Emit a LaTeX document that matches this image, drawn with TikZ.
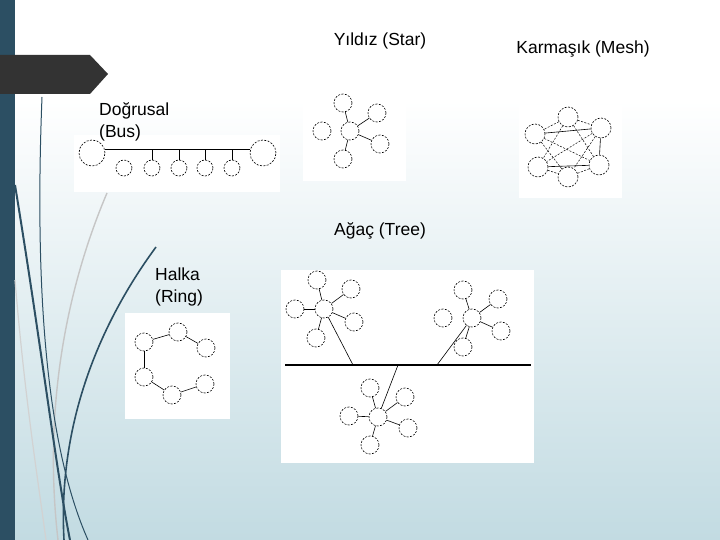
\documentclass[tikz,border=0pt]{standalone}
\usepackage{fontspec}
\setmainfont{Liberation Sans}
\usetikzlibrary{positioning}
\definecolor{barblue}{RGB}{44,79,99}
\definecolor{bannergray}{RGB}{51,51,51}
\definecolor{bgbottom}{RGB}{194,219,226}
\begin{document}
\begin{tikzpicture}[x=1pt, y=-1pt,
    host/.style={circle, draw, dash pattern=on 2pt off 1.4pt, line width=0.6pt, minimum size=18pt, inner sep=0pt},
    bighost/.style={host, minimum size=26pt},
    smallhost/.style={host, minimum size=16pt},
    meshhost/.style={host, minimum size=20pt},
    link/.style={line width=0.6pt},
    meshlink/.style={line width=0.5pt, dash pattern=on 2pt off 1.5pt},
    toptext/.style={font=\fontsize{17.5}{22}\selectfont, inner sep=0pt},
    swoosh/.style={barblue, line width=1.6pt}]
    \useasboundingbox (0,0) rectangle (720,540);

    % Background
    \fill[white] (0,0) rectangle (720,100);
    \shade[top color=white, bottom color=bgbottom] (0,100) rectangle (720,540);
    \fill[barblue] (0,0) rectangle (15,540);

    % Swooshes on the left
    \draw[gray!45, line width=1.4pt] (107,193) .. controls (70,280) and (42,400) .. (58,540);
    \draw[gray!35, line width=1.2pt] (15,280) .. controls (25,400) and (38,480) .. (46,540);
    \draw[swoosh, line width=1pt] (42,97) .. controls (34,300) and (48,450) .. (88,540);
    \draw[swoosh, line width=2pt] (15,185) .. controls (42,350) and (56,470) .. (70,540);
    \draw[swoosh] (156,247) .. controls (95,330) and (58,430) .. (64,540);

    % Banner
    \fill[bannergray] (0,55) -- (90,55) -- (108,74) -- (90,94) -- (0,94) -- cycle;

    % Panels
    \fill[white] (74,135) rectangle (280,192);
    \fill[white] (303,90) rectangle (406,181);
    \fill[white] (519,105) rectangle (622,198);
    \fill[white] (125,313) rectangle (230,419);
    \fill[white] (281,270) rectangle (534,463);

    % Titles
    \node[toptext, anchor=base] (startitle) at (380,46) {Yıldız (Star)};
    \node[toptext, anchor=base] (meshtitle) at (583,54) {Karmaşık (Mesh)};
    \node[toptext, anchor=base] (treetitle) at (380,236) {Ağaç (Tree)};
    \node[toptext, anchor=north west, align=left] (bustitle) at (99,102) {Doğrusal\\(Bus)};
    \node[toptext, anchor=north west, align=left] (ringtitle) at (155,268) {Halka\\(Ring)};

    % Bus
    \node[bighost] (bl) at (92,153) {};
    \node[bighost] (br) at (263,153) {};
    \node[smallhost] (b1) at (124,168) {};
    \node[smallhost] (b2) at (152,168) {};
    \node[smallhost] (b3) at (179,168) {};
    \node[smallhost] (b4) at (205,168) {};
    \node[smallhost] (b5) at (232,168) {};
    \draw[link] (bl.15) -- (br.165);
    \foreach \n in {b2,b3,b4,b5}
        \draw[link] (\n.north) -- (\n.north |- bl.15);

    % Star
    \node[host] (sc) at (350,131) {};
    \node[host] (st) at (343,103) {};
    \node[host] (sr) at (377,113) {};
    \node[host] (sl) at (322,131) {};
    \node[host] (sd) at (380,144) {};
    \node[host] (sb) at (343,159) {};
    \foreach \n in {st,sr,sd,sb}
        \draw[link] (sc) -- (\n);

    % Mesh
    \node[meshhost] (mt) at (568,117) {};
    \node[meshhost] (ml) at (535,134) {};
    \node[meshhost] (mr) at (601,128) {};
    \node[meshhost] (mll) at (538,167) {};
    \node[meshhost] (mb) at (568,177) {};
    \node[meshhost] (mlr) at (599,165) {};
    \draw[link] (ml) -- (mr);
    \draw[link] (mll) -- (mlr);
    \draw[link] (mr) -- (mlr);
    \foreach \a/\b in {mt/ml, mt/mr, mt/mll, mt/mlr, ml/mlr, ml/mb, mr/mll, mr/mb, mll/mb, mb/mlr}
        \draw[meshlink] (\a) -- (\b);

    % Ring
    \node[host] (ra) at (144,342) {};
    \node[host] (rb) at (178,332) {};
    \node[host] (rc) at (206,348) {};
    \node[host] (rd) at (144,377) {};
    \node[host] (re) at (172,395) {};
    \node[host] (rf) at (205,384) {};
    \foreach \a/\b in {ra/rb, rb/rc, ra/rd, rd/re, re/rf}
        \draw[link] (\a) -- (\b);

    % Tree
    \coordinate (tl) at (285,365);
    \coordinate (tr) at (531,365);
    \coordinate (t1) at (353,365);
    \coordinate (t2) at (437,365);
    \coordinate (t3) at (398,365);
    \draw[line width=2pt] (tl) -- (tr);

    \node[host] (c1) at (324,309) {};
    \node[host] (c1t) at (317,280) {};
    \node[host] (c1r) at (351,289) {};
    \node[host] (c1l) at (295,309) {};
    \node[host] (c1s) at (354,322) {};
    \node[host] (c1b) at (316,338) {};
    \foreach \n in {c1t,c1r,c1l,c1s,c1b}
        \draw[link] (c1) -- (\n);
    \draw[link] (c1) -- (t1);

    \node[host] (c2) at (472,318) {};
    \node[host] (c2t) at (463,290) {};
    \node[host] (c2r) at (498,299) {};
    \node[host] (c2l) at (443,318) {};
    \node[host] (c2s) at (501,331) {};
    \node[host] (c2b) at (463,347) {};
    \foreach \n in {c2t,c2r,c2s,c2b}
        \draw[link] (c2) -- (\n);
    \draw[link] (c2) -- (t2);

    \node[host] (c3) at (378,417) {};
    \node[host] (c3t) at (370,388) {};
    \node[host] (c3r) at (405,397) {};
    \node[host] (c3l) at (349,416) {};
    \node[host] (c3s) at (408,428) {};
    \node[host] (c3b) at (370,445) {};
    \foreach \n in {c3t,c3r,c3l,c3s,c3b}
        \draw[link] (c3) -- (\n);
    \draw[link] (c3) -- (t3);
\end{tikzpicture}
\end{document}
